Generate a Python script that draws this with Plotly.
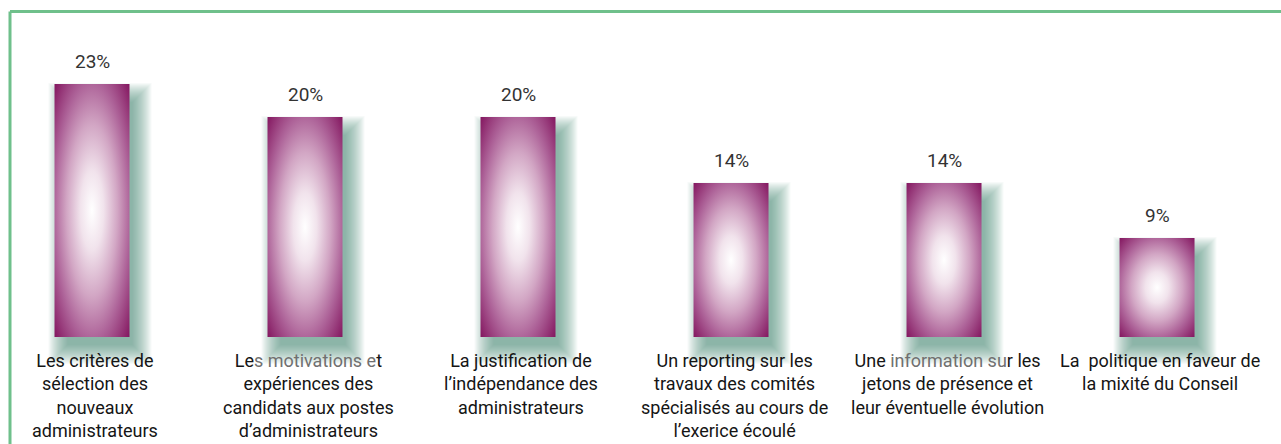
import plotly.graph_objects as go

# ---- data ----
categories = [
    "Les critères de<br>sélection des<br>nouveaux<br>administrateurs",
    "Le<span style='color:#707070'>s motivations e</span>t<br>expériences des<br>candidats aux postes<br>d’administrateurs",
    "La justification de<br>l’indépendance des<br>administrateurs",
    "Un reporting sur les<br>travaux des comités<br>spécialisés au cours de<br>l’exerice écoulé",
    "Une <span style='color:#707070'>information su</span>r les<br>jetons de présence et<br>leur éventuelle évolution",
    "La  politique en faveur de<br>la mixité du Conseil",
]
values = [23, 20, 20, 14, 14, 9]
value_labels = ["23%", "20%", "20%", "14%", "14%", "9%"]

# ---- geometry helpers (pixel -> data unit conversions) ----
W, H = 1281, 444
M_L, M_R, M_T, M_B = 0, 0, 7, 74
X_RANGE = [-0.4319, 5.582]
Y_RANGE = [-3, 30]
px_x = (W - M_L - M_R) / (X_RANGE[1] - X_RANGE[0])
px_y = (H - M_T - M_B) / (Y_RANGE[1] - Y_RANGE[0])
half = 0.176

fig = go.Figure()

def rect(x0, x1, y0, y1):
    return [x0, x1, x1, x0, x0], [y0, y0, y1, y1, y0]

for i, v in enumerate(values):
    # blurred green drop shadow
    dx, dy = 8 / px_x, 13 / px_y
    for k in range(14, -6, -1):
        ex, ey = k / px_x, k / px_y
        xs, ys = rect(i - half + dx - ex, i + half + dx + ex, -dy - ey, v - dy + ey)
        fig.add_trace(go.Scatter(
            x=xs, y=ys, mode="lines", fill="toself",
            fillcolor="rgba(70,135,105,0.042)", line=dict(width=0),
            hoverinfo="skip", showlegend=False))
    # bar with radial gradient; two zero-area spikes widen the gradient's
    # bounding box so that the ellipse reaches the bar corners
    x0, x1, y0, y1 = i - half, i + half, 0, v
    sx = (x1 - x0) * 0.207
    sy = (y1 - y0) * 0.207
    xs = [x0, x0 - sx, x0, x1, x1, x1 + sx, x1, x0, x0]
    ys = [y0, y0 - sy, y0, y0, y1, y1 + sy, y1, y1, y0]
    fig.add_trace(go.Scatter(
        x=xs, y=ys, mode="lines", fill="toself", line=dict(width=0),
        fillgradient=dict(type="radial",
                          colorscale=[[0, "#ffffff"], [0.22, "#f1e3ec"],
                                      [0.48, "#d2a6c4"], [0.72, "#ad6298"],
                                      [1, "#83165f"]]),
        hoverinfo="skip", showlegend=False))
    fig.add_annotation(x=i, y=v, text=value_labels[i], showarrow=False,
                       yanchor="bottom", yshift=9,
                       font=dict(family="Roboto", size=19, color="#333333"))
    fig.add_annotation(x=i, y=0, text=categories[i], showarrow=False,
                       yanchor="top", yshift=-11, xshift=3, align="center",
                       font=dict(family="Roboto", size=18, color="#151515"))

# frame lines (green)
plot_h = H - M_T - M_B
y_top = (H - M_B - 11.5) / plot_h
y_bot = (H - M_B - H - 2) / plot_h
x_left = 10 / W
fig.add_shape(type="line", xref="paper", yref="paper", x0=x_left, x1=1.01,
              y0=y_top, y1=y_top, line=dict(color="#6fc08b", width=3))
fig.add_shape(type="line", xref="paper", yref="paper", x0=x_left, x1=x_left,
              y0=y_top, y1=y_bot, line=dict(color="#6fc08b", width=3))

fig.update_layout(
    width=W, height=H,
    margin=dict(l=M_L, r=M_R, t=M_T, b=M_B),
    paper_bgcolor="white", plot_bgcolor="white",
    xaxis=dict(range=X_RANGE, visible=False, fixedrange=True),
    yaxis=dict(range=Y_RANGE, visible=False, fixedrange=True),
    showlegend=False,
)

fig.write_html("out.html")
